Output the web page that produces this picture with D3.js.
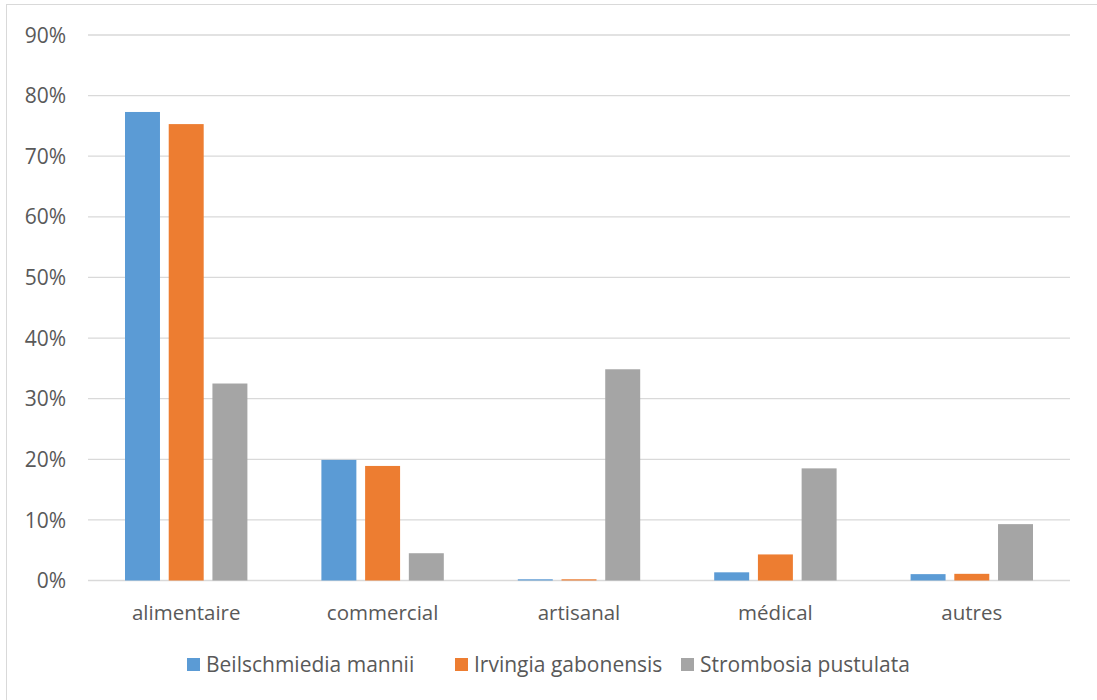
<!DOCTYPE html>
<html>
<head>
<meta charset="utf-8">
<script src="https://cdn.jsdelivr.net/npm/d3@7"></script>
<style>
  html, body { margin: 0; padding: 0; background: #fff; }
  svg { display: block; }
  text { font-family: "Open Sans", "Noto Sans", sans-serif; fill: #595959; }
</style>
</head>
<body>
<svg id="chart" width="1097" height="700"></svg>
<script>
// Usage categories and share of each species (%)
const categories = ["alimentaire", "commercial", "artisanal", "médical", "autres"];
const seriesNames = ["Beilschmiedia mannii", "Irvingia gabonensis", "Strombosia pustulata"];
const beilschmiedia = [77.3, 19.9, 0.2, 1.35, 1.05];
const irvingia = [75.3, 18.9, 0.2, 4.3, 1.1];
const strombosia = [32.5, 4.5, 34.85, 18.5, 9.3];
const yTicks = [0, 10, 20, 30, 40, 50, 60, 70, 80, 90];
const colors = ["#5b9bd5", "#ed7d31", "#a5a5a5"];

const seriesValues = [beilschmiedia, irvingia, strombosia];

const svg = d3.select("#chart");
const plot = { left: 88, right: 1070, top: 35, bottom: 580.5 };

// Chart frame
svg.append("rect")
  .attr("x", 6.5).attr("y", 4.5)
  .attr("width", 1200).attr("height", 800)
  .attr("fill", "#fff").attr("stroke", "#d9d9d9").attr("stroke-width", 1);

const y = d3.scaleLinear().domain([0, 90]).range([plot.bottom, plot.top]);
const x0 = d3.scaleBand().domain(categories).range([plot.left, plot.right]).padding(0);
const outer = 37;
const x1 = d3.scaleBand().domain(seriesNames)
  .range([outer, x0.bandwidth() - outer]).paddingInner(0.2).paddingOuter(0);

// Horizontal gridlines
svg.append("g").selectAll("line")
  .data(yTicks)
  .join("line")
  .attr("x1", plot.left).attr("x2", plot.right)
  .attr("y1", d => y(d)).attr("y2", d => y(d))
  .attr("stroke", "#d9d9d9").attr("stroke-width", 1.3);

// Y axis labels
const yAxis = d3.axisLeft(y).tickValues(yTicks).tickFormat(d => d + "%").tickSize(0).tickPadding(0);
const gy = svg.append("g").attr("transform", `translate(66,0)`).call(yAxis);
gy.select(".domain").remove();
gy.selectAll("text").attr("font-size", 21).attr("fill", "#595959")
  .attr("dy", "0.34em")
  .style("font-family", "'Open Sans', sans-serif");

// Bars
const groups = svg.append("g").selectAll("g")
  .data(categories)
  .join("g")
  .attr("transform", d => `translate(${x0(d)},0)`);

groups.selectAll("rect")
  .data((c, i) => seriesNames.map((s, k) => ({ s, k, v: seriesValues[k][i] })))
  .join("rect")
  .attr("x", d => x1(d.s))
  .attr("width", x1.bandwidth())
  .attr("y", d => y(d.v))
  .attr("height", d => y(0) - y(d.v))
  .attr("fill", d => colors[d.k]);

// Category labels
const xAxis = d3.axisBottom(x0).tickSize(0).tickPadding(0);
const gx = svg.append("g").attr("transform", `translate(0,620)`).call(xAxis);
gx.select(".domain").remove();
gx.selectAll("text").attr("font-size", 20.5).attr("fill", "#595959")
  .attr("y", 0).attr("dy", 0)
  .style("font-family", "'Open Sans', sans-serif");

// Legend
const legendX = [187, 455, 681];
const legend = svg.append("g").selectAll("g")
  .data(seriesNames)
  .join("g")
  .attr("transform", (d, i) => `translate(${legendX[i]},658)`);
legend.append("rect").attr("width", 13).attr("height", 13).attr("fill", (d, i) => colors[i]);
legend.append("text").attr("x", 19).attr("y", 13.5)
  .attr("font-size", 21).text(d => d);
</script>
</body>
</html>
